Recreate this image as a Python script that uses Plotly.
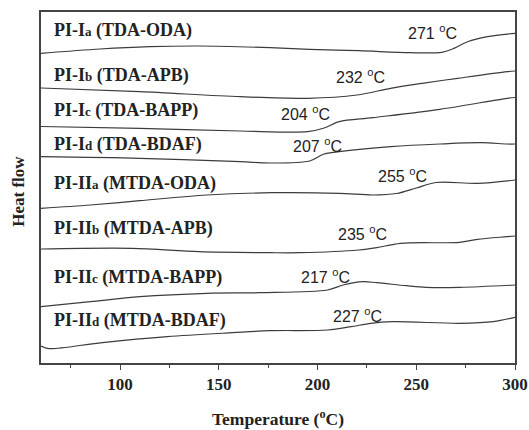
import plotly.graph_objects as go

# Temperature (°C) / heat-flow (arbitrary, stacked) readings per sample
t_Ia = [60, 90, 115, 140, 176, 196, 221, 247, 263, 268, 276, 286, 300]
h_Ia = [309.7, 314, 316.3, 317, 315.3, 313.7, 312.3, 310.3, 310.7, 313.7, 321.3, 326.3, 329.7]

t_Ib = [60, 110, 161, 195, 220, 237, 253, 271, 296, 300]
h_Ib = [275, 271.3, 266.3, 264.7, 268, 274.7, 279.7, 284.7, 291.3, 292]

t_Ic = [60, 110, 161, 195, 203, 211, 228, 262, 296, 300]
h_Ic = [236.5, 234.7, 232, 231.3, 234.7, 241.3, 245.3, 253.7, 264.7, 265.5]

t_Id = [60, 110, 161, 176, 196, 203, 211, 237, 262, 283, 296, 300]
h_Id = [206.3, 204.7, 201.3, 200, 202, 208.7, 211.3, 216.3, 219, 220.3, 219, 219]

t_IIa = [60, 85, 110, 144, 177, 211, 228, 240, 250, 260, 281, 300]
h_IIa = [154.7, 158, 162.3, 168, 170.3, 169.7, 168, 169.5, 175, 180.5, 179.7, 183]

t_IIb = [60, 106, 140, 176, 191, 221, 230, 242, 272, 281, 296, 300]
h_IIb = [114, 114.7, 111.3, 110.3, 110.3, 113, 115.3, 119.7, 120.7, 123.7, 126.3, 127]

t_IIc = [60, 85, 110, 144, 171, 205, 213, 223, 230, 245, 255, 272, 300]
h_IIc = [56.3, 61.3, 66.3, 69.7, 70.3, 73, 78, 81.3, 80.3, 77.3, 75.7, 75.7, 78]

t_IId = [60, 64, 90, 124, 157, 176, 205, 217, 227, 238, 272, 289, 300]
h_IId = [17, 14.4, 20.2, 26.3, 30.3, 32.3, 33, 36.3, 39.7, 41.3, 39.7, 41.3, 45.7]

sample_names = [
    "PI-I<span style='font-size:13px'>a</span> (TDA-ODA)",
    "PI-I<span style='font-size:13px'>b</span> (TDA-APB)",
    "PI-I<span style='font-size:13px'>c</span> (TDA-BAPP)",
    "PI-I<span style='font-size:13px'>d</span> (TDA-BDAF)",
    "PI-II<span style='font-size:13px'>a</span> (MTDA-ODA)",
    "PI-II<span style='font-size:13px'>b</span> (MTDA-APB)",
    "PI-II<span style='font-size:13px'>c</span> (MTDA-BAPP)",
    "PI-II<span style='font-size:13px'>d</span> (MTDA-BDAF)",
]
name_y = [333, 288, 253, 219, 180, 135, 86, 43]

tg_values = [271, 232, 204, 207, 255, 235, 217, 227]
tg_label_x = [258, 222, 194, 200, 243, 223, 204, 220]
tg_label_y = [331, 287, 250, 218, 188, 130, 87, 48]

x_ticks = [100, 150, 200, 250, 300]

curves = [(t_Ia, h_Ia), (t_Ib, h_Ib), (t_Ic, h_Ic), (t_Id, h_Id),
          (t_IIa, h_IIa), (t_IIb, h_IIb), (t_IIc, h_IIc), (t_IId, h_IId)]

fig = go.Figure()
for (tx, hy), nm in zip(curves, sample_names):
    fig.add_trace(go.Scatter(x=tx, y=hy, mode="lines", name=nm,
                             line=dict(color="#3c3c3c", width=1.2, shape="spline", smoothing=0.9),
                             showlegend=False, hoverinfo="skip"))

serif = "Liberation Serif, Times New Roman, serif"
sans = "Liberation Sans, Arial, sans-serif"

annotations = []
for nm, yv in zip(sample_names, name_y):
    annotations.append(dict(x=0.023, xref="paper", y=yv, yref="y", text="<b>" + nm + "</b>",
                            showarrow=False, xanchor="left", yanchor="middle",
                            font=dict(family=serif, size=18, color="#222")))
for tv, lx, ly in zip(tg_values, tg_label_x, tg_label_y):
    annotations.append(dict(x=lx, y=ly, xref="x", yref="y", text=f"{tv} <sup>o</sup>C",
                            showarrow=False, xanchor="center", yanchor="middle",
                            font=dict(family=sans, size=16, color="#222")))
annotations.append(dict(x=0.5, xref="paper", y=-0.158, yref="paper",
                        text="<b>Temperature (<sup>o</sup>C)</b>", showarrow=False,
                        xanchor="center", yanchor="middle",
                        font=dict(family=serif, size=17.5, color="#222")))
annotations.append(dict(x=-0.049, xref="paper", y=0.49, yref="paper",
                        text="<b>Heat flow</b>", showarrow=False, textangle=-90,
                        xanchor="center", yanchor="middle",
                        font=dict(family=serif, size=17, color="#222")))

fig.update_layout(
    width=529, height=430,
    margin=dict(l=41, r=14, t=12, b=67, autoexpand=False),
    paper_bgcolor="white", plot_bgcolor="white",
    annotations=annotations,
    xaxis=dict(range=[60, 300], tickvals=x_ticks, ticktext=[f"<b>{v}</b>" for v in x_ticks],
               automargin=False,
               ticks="outside", ticklen=5, tickwidth=1.2, tickcolor="#444",
               minor=dict(dtick=25, tick0=0, ticks="outside", ticklen=3, tickcolor="#444", tickwidth=1.2),
               showline=True, linecolor="#444", linewidth=1.5, mirror=True,
               showgrid=False, zeroline=False,
               tickfont=dict(family=serif, size=17, color="#222")),
    yaxis=dict(range=[0, 351], showticklabels=False, ticks="", automargin=False,
               showline=True, linecolor="#444", linewidth=1.5, mirror=True,
               showgrid=False, zeroline=False),
)

fig.write_html("out.html", config={"displayModeBar": False},
               post_script="document.body.style.margin='0';document.body.style.overflow='hidden';")
